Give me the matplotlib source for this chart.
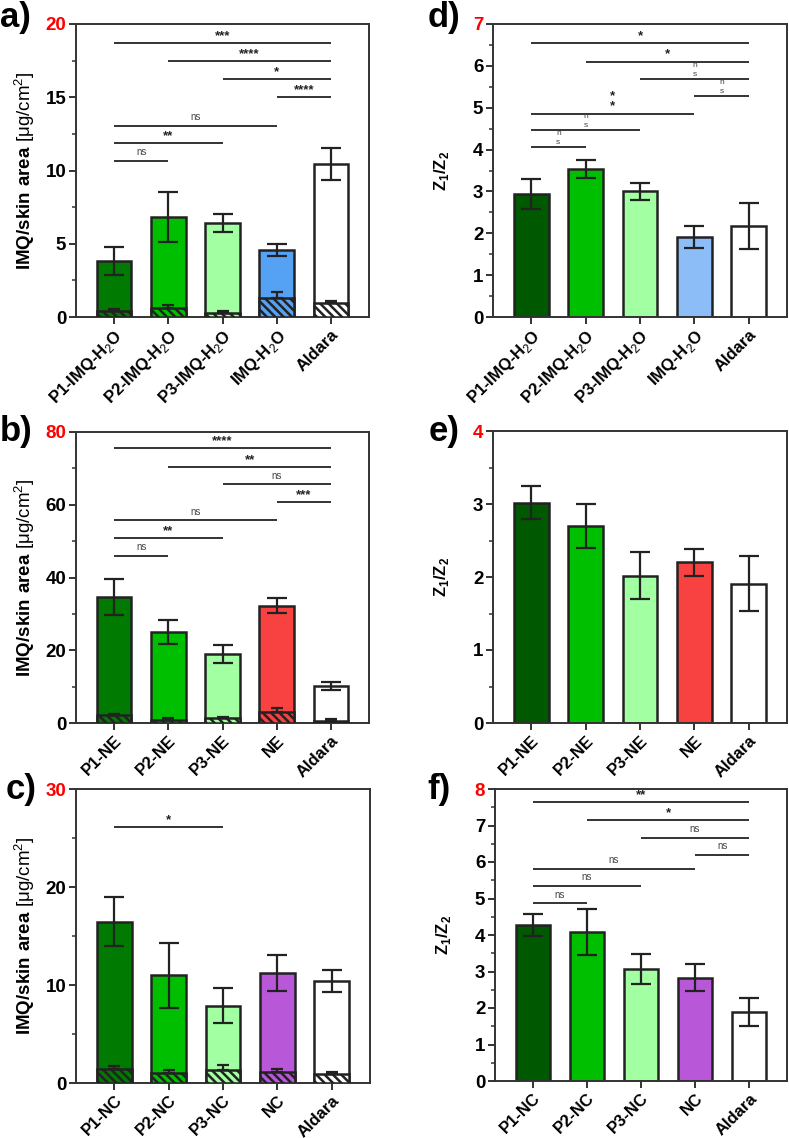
import numpy as np
import matplotlib
matplotlib.use('Agg')
import matplotlib.pyplot as plt
from matplotlib.ticker import MultipleLocator

plt.rcParams['font.family'] = ['Liberation Sans', 'DejaVu Sans']
plt.rcParams['mathtext.fontset'] = 'custom'
plt.rcParams['mathtext.rm'] = 'Liberation Sans'
plt.rcParams['mathtext.bf'] = 'Liberation Sans:bold'
plt.rcParams['hatch.linewidth'] = 1.8

# ---------------- datos ----------------
lab_h2o = ['P1-IMQ-H$_2$O', 'P2-IMQ-H$_2$O', 'P3-IMQ-H$_2$O', 'IMQ-H$_2$O', 'Aldara']
lab_ne = ['P1-NE', 'P2-NE', 'P3-NE', 'NE', 'Aldara']
lab_nc = ['P1-NC', 'P2-NC', 'P3-NC', 'NC', 'Aldara']

# a) IMQ total / parte rayada (H2O)
a_tot = [3.85, 6.8, 6.4, 4.55, 10.45]
a_tot_err = [0.95, 1.7, 0.6, 0.4, 1.1]
a_hat = [0.4, 0.6, 0.28, 1.32, 0.93]
a_hat_err = [0.13, 0.2, 0.1, 0.4, 0.17]
a_sig = [(0, 4, 18.7, '***'), (1, 4, 17.45, '****'), (2, 4, 16.25, '*'), (3, 4, 15.0, '****'),
         (0, 3, 13.05, 'ns'), (0, 2, 11.85, '**'), (0, 1, 10.65, 'ns')]

# b) NE
b_tot = [34.6, 25.0, 19.0, 32.3, 10.2]
b_tot_err = [5.0, 3.2, 2.4, 2.1, 1.2]
b_hat = [2.1, 0.9, 1.4, 3.0, 0.6]
b_hat_err = [0.5, 0.35, 0.35, 1.0, 0.4]
b_sig = [(0, 4, 75.6, '****'), (1, 4, 70.4, '**'), (2, 4, 65.6, 'ns'), (3, 4, 60.7, '***'),
         (0, 3, 55.7, 'ns'), (0, 2, 50.9, '**'), (0, 1, 46.0, 'ns')]

# c) NC
c_tot = [16.45, 11.0, 7.9, 11.25, 10.4]
c_tot_err = [2.5, 3.3, 1.8, 1.85, 1.15]
c_hat = [1.42, 1.05, 1.3, 1.12, 0.92]
c_hat_err = [0.35, 0.25, 0.5, 0.27, 0.17]
c_sig = [(0, 2, 26.1, '*')]

# d) Z1/Z2 H2O
d_val = [2.94, 3.54, 3.0, 1.92, 2.17]
d_err = [0.35, 0.21, 0.2, 0.26, 0.55]
d_sig = [(0, 4, 6.54, '*'), (1, 4, 6.1, '*'), (2, 4, 5.69, 'n\ns'), (3, 4, 5.28, 'n\ns'),
         (0, 3, 4.86, '*\n*'), (0, 2, 4.46, 'n\ns'), (0, 1, 4.06, 'n\ns')]

# e) Z1/Z2 NE
e_val = [3.02, 2.7, 2.02, 2.2, 1.91]
e_err = [0.22, 0.3, 0.32, 0.18, 0.38]

# f) Z1/Z2 NC
f_val = [4.28, 4.07, 3.07, 2.83, 1.9]
f_err = [0.3, 0.63, 0.4, 0.37, 0.38]
f_sig = [(0, 4, 7.64, '**'), (1, 4, 7.14, '*'), (2, 4, 6.67, 'ns'), (3, 4, 6.2, 'ns'),
         (0, 3, 5.81, 'ns'), (0, 2, 5.35, 'ns'), (0, 1, 4.87, 'ns')]

col_h2o = ['#007a00', '#00bf00', '#a2ffa2', '#55a2f5', '#ffffff']
col_ne = ['#007a00', '#00bf00', '#a2ffa2', '#f84242', '#ffffff']
col_nc = ['#007a00', '#00bf00', '#a2ffa2', '#b858d8', '#ffffff']
col_z_h2o = ['#005900', '#00bf00', '#a2ffa2', '#8cbdf7', '#ffffff']
col_z_ne = ['#005900', '#00bf00', '#a2ffa2', '#f84242', '#ffffff']
col_z_nc = ['#005900', '#00bf00', '#a2ffa2', '#b858d8', '#ffffff']

W, H = 789, 1138
fig = plt.figure(figsize=(W / 100, H / 100), dpi=100)


def rect(l, r, t, b):
    return [l / W, 1 - b / H, (r - l) / W, (b - t) / H]


def estilo(ax, labels, ymax, major, minor):
    x = np.arange(len(labels))
    ax.set_xlim(-0.7, 4.7)
    ax.set_ylim(0, ymax)
    yt = np.arange(0, ymax + major / 2, major)
    ax.set_yticks(yt)
    ax.set_yticklabels(['%g' % v for v in yt], fontsize=13.5, fontweight='bold')
    ax.get_yticklabels()[-1].set_color('red')
    ax.yaxis.set_minor_locator(MultipleLocator(minor))
    ax.set_xticks(x)
    ax.set_xticklabels(labels, rotation=45, ha='right', rotation_mode='anchor',
                       fontsize=12, fontweight='bold')
    for s in ax.spines.values():
        s.set_linewidth(1.4)
        s.set_color('#333333')
    ax.tick_params(axis='both', which='major', length=5, width=1.4, color='#333333')
    ax.tick_params(axis='y', which='minor', length=3, width=1.1, color='#333333')
    ax.tick_params(axis='x', pad=2)
    ax.tick_params(axis='y', pad=2)


def signif(ax, sig, ymax):
    for i, j, y, txt in sig:
        ax.plot([i, j], [y, y], color='#333333', lw=1.4, solid_capstyle='butt')
        xm = (i + j) / 2
        if txt.replace('\n', '').startswith('n'):
            if '\n' in txt:
                ax.text(xm, y + ymax * 0.003, txt, ha='center', va='bottom', fontsize=6,
                        color='#444444', linespacing=1.4)
            else:
                ax.text(xm, y + ymax * 0.012, txt, ha='center', va='bottom', fontsize=7,
                        color='#444444')
        else:
            ax.text(xm, y + ymax * 0.004, txt, ha='center', va='bottom', fontsize=9.5,
                    fontweight='bold', color='#222222', linespacing=0.8)


def apiladas(ax, tot, tot_err, hat, hat_err, cols):
    x = np.arange(len(tot))
    ax.bar(x, tot, width=0.64, color=cols, edgecolor='#222222', linewidth=1.8, zorder=2)
    ax.errorbar(x, tot, yerr=tot_err, fmt='none', ecolor='#222222', elinewidth=1.6,
                capsize=7.5, capthick=1.6, zorder=4)
    ax.bar(x, hat, width=0.64, color=cols, edgecolor='#222222', linewidth=1.8,
           hatch='\\\\\\\\', zorder=3)
    ax.errorbar(x, hat, yerr=[np.zeros(len(hat)), hat_err], fmt='none', ecolor='#222222',
                elinewidth=1.6, capsize=4.5, capthick=1.6, zorder=4)


def simples(ax, val, err, cols):
    x = np.arange(len(val))
    ax.bar(x, val, width=0.64, color=cols, edgecolor='#222222', linewidth=1.8, zorder=2)
    ax.errorbar(x, val, yerr=err, fmt='none', ecolor='#222222', elinewidth=1.6,
                capsize=7.5, capthick=1.6, zorder=4)


ylab_imq = r'$\mathbf{IMQ/skin\ area}$ [μg/cm$^{2}$]'
ylab_z = r'Z$_\mathbf{1}$/Z$_\mathbf{2}$'

# a)
ax = fig.add_axes(rect(76, 369, 24, 317))
apiladas(ax, a_tot, a_tot_err, a_hat, a_hat_err, col_h2o)
signif(ax, a_sig, 20)
estilo(ax, lab_h2o, 20, 5, 2.5)
ax.set_ylabel(ylab_imq, fontsize=13.5, labelpad=6)

# d)
ax = fig.add_axes(rect(493, 787, 24, 317))
simples(ax, d_val, d_err, col_z_h2o)
signif(ax, d_sig, 7)
estilo(ax, lab_h2o, 7, 1, 0.5)
ax.set_ylabel(ylab_z, fontsize=12, fontweight='bold', labelpad=16)

# b)
ax = fig.add_axes(rect(76, 369, 432, 723))
apiladas(ax, b_tot, b_tot_err, b_hat, b_hat_err, col_ne)
signif(ax, b_sig, 80)
estilo(ax, lab_ne, 80, 20, 10)
ax.set_ylabel(ylab_imq, fontsize=13.5, labelpad=6)

# e)
ax = fig.add_axes(rect(493, 787, 431, 723))
simples(ax, e_val, e_err, col_z_ne)
estilo(ax, lab_ne, 4, 1, 0.5)
ax.set_ylabel(ylab_z, fontsize=12, fontweight='bold', labelpad=16)

# c)
ax = fig.add_axes(rect(76, 370, 789, 1083))
apiladas(ax, c_tot, c_tot_err, c_hat, c_hat_err, col_nc)
signif(ax, c_sig, 30)
estilo(ax, lab_nc, 30, 10, 5)
ax.set_ylabel(ylab_imq, fontsize=13.5, labelpad=6)

# f)
ax = fig.add_axes(rect(495, 787, 789, 1081))
simples(ax, f_val, f_err, col_z_nc)
signif(ax, f_sig, 8)
estilo(ax, lab_nc, 8, 1, 0.5)
ax.set_ylabel(ylab_z, fontsize=12, fontweight='bold', labelpad=16)

# letras de panel
for txt, px, py in [('a)', 0, 17), ('d)', 428, 17), ('b)', 0, 432), ('e)', 429, 432),
                    ('c)', 6, 790), ('f)', 427, 790)]:
    fig.text(px / W, 1 - py / H, txt, fontsize=25, fontweight='bold', va='center', ha='left')

fig.savefig('out.png', dpi=100)
